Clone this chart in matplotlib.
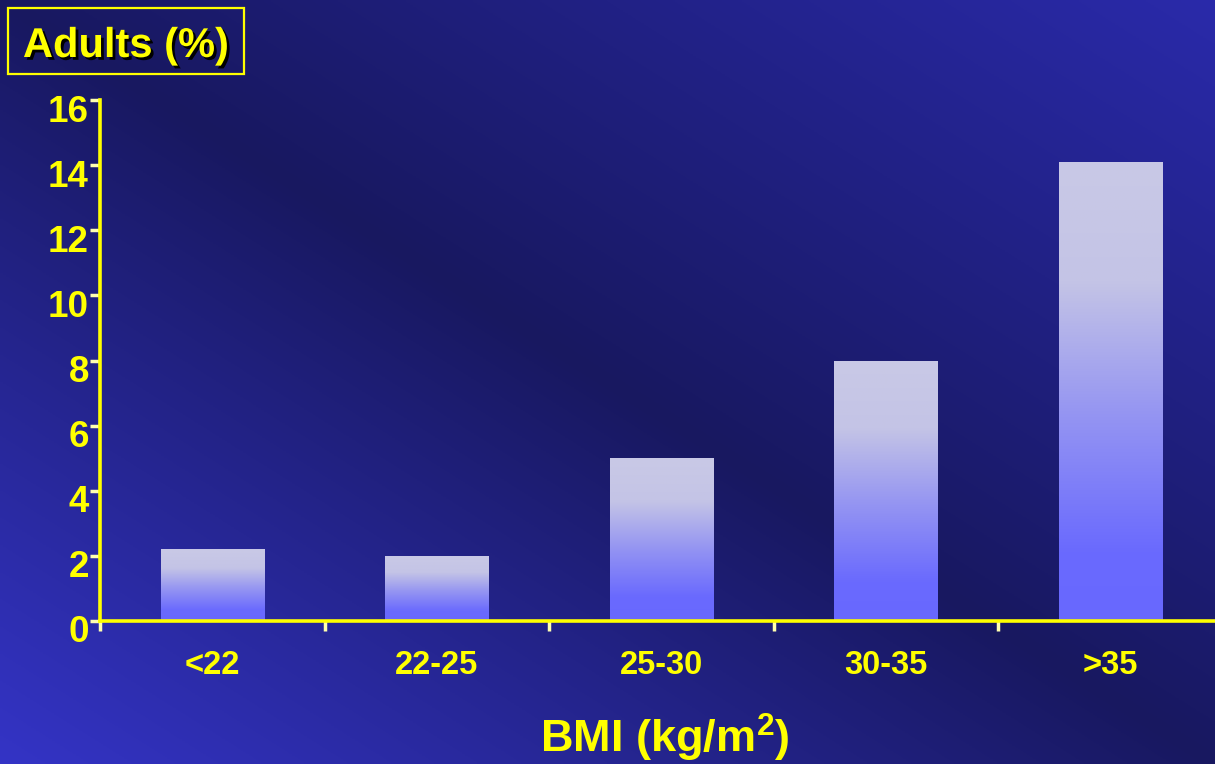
import numpy as np
import matplotlib
matplotlib.use("Agg")
import matplotlib.pyplot as plt
from matplotlib.colors import LinearSegmentedColormap
from matplotlib.patches import Rectangle
from matplotlib.transforms import ScaledTranslation
import matplotlib.patheffects as pe

plt.rcParams['font.family'] = ['Liberation Sans', 'DejaVu Sans']
plt.rcParams['font.weight'] = 'bold'
plt.rcParams['mathtext.fontset'] = 'custom'
plt.rcParams['mathtext.bf'] = 'Liberation Sans:bold'
plt.rcParams['mathtext.rm'] = 'Liberation Sans:bold'

# data
categories = ['<22', '22-25', '25-30', '30-35', '>35']
adults_pct = [2.2, 2.0, 5.0, 8.0, 14.1]
y_ticks = [0, 2, 4, 6, 8, 10, 12, 14, 16]

YELLOW = '#ffff00'
TICKC = '#ffffb0'
W, H = 1215, 764

fig = plt.figure(figsize=(W / 100, H / 100), dpi=100)

# background diagonal gradient
bg_ax = fig.add_axes([0, 0, 1, 1], zorder=-10)
bg_ax.set_axis_off()
xx, yy = np.meshgrid(np.linspace(0, 1, 400), np.linspace(0, 1, 300))
s = xx - yy  # yy downwards (image origin upper)
dark = np.array([0x18, 0x18, 0x60]) / 255
bl = np.array([0x34, 0x34, 0xc6]) / 255
tr = np.array([0x2a, 0x2a, 0xaa]) / 255
neg = np.clip(-s, 0, 1)[..., None]
pos = np.clip(s, 0, 1)[..., None]
img = np.where(s[..., None] < 0, dark + (bl - dark) * neg, dark + (tr - dark) * pos)
bg_ax.imshow(img, aspect='auto', extent=[0, 1, 0, 1], origin='upper')

ax = fig.add_axes([100 / W, 1 - 621 / H, 1 - 100 / W, (621 - 100) / H])
ax.patch.set_alpha(0)

bar_cmap = LinearSegmentedColormap.from_list(
    'barfade',
    [(0.0, '#6868ff'), (0.15, '#6a6afe'), (0.45, '#9595f2'),
     (0.74, '#c4c4e6'), (1.0, '#c9c9e6')])
grad = np.linspace(0, 1, 256).reshape(-1, 1)

x = np.arange(len(categories))
width = 0.46
bars = ax.bar(x, adults_pct, width=width, color='none', edgecolor='none')
for rect, h in zip(bars, adults_pct):
    x0 = rect.get_x()
    im = ax.imshow(grad, cmap=bar_cmap, aspect='auto', origin='lower',
                   extent=[x0, x0 + rect.get_width(), 0, h], zorder=2)
    im.set_clip_path(rect)

ax.set_xlim(-0.5, 4.464)
ax.set_ylim(0, 16)

for side in ['top', 'right']:
    ax.spines[side].set_visible(False)
for side in ['left', 'bottom']:
    ax.spines[side].set_color(YELLOW)
    ax.spines[side].set_linewidth(2.6)
    ax.spines[side].set_zorder(5)

ax.set_yticks(y_ticks)
ax.set_yticklabels([str(v) for v in y_ticks])
ax.tick_params(axis='y', colors=TICKC, length=7, width=2.5, pad=1,
               labelsize=26.5, labelcolor=YELLOW)
shift = ScaledTranslation(0, -8 / 100, fig.dpi_scale_trans)
for lab in ax.get_yticklabels():
    lab.set_transform(lab.get_transform() + shift)

ax.set_xticks(x)
ax.set_xticklabels(categories)
ax.tick_params(axis='x', which='major', length=0, pad=21,
               labelsize=23.5, labelcolor=YELLOW)
ax.set_xticks(np.arange(-0.5, 4.0, 1.0), minor=True)
ax.tick_params(axis='x', which='minor', colors=TICKC, length=7, width=2.5)

# x axis title
fig.text(665 / W, 1 - 753 / H, r'BMI (kg/m$^{\mathbf{2}}$)', fontsize=32.5,
         color=YELLOW, fontweight='bold', ha='center', va='baseline')

# boxed y axis title
fig.add_artist(Rectangle((8 / W, 1 - 74 / H), 236 / W, 66 / H,
                         transform=fig.transFigure, facecolor='none',
                         edgecolor=YELLOW, linewidth=1.6))
title = fig.text(126 / W, 1 - 57 / H, 'Adults (%)', fontsize=30,
                 color=YELLOW, fontweight='bold', ha='center', va='baseline')
title.set_path_effects([pe.SimplePatchShadow(offset=(2, -2), shadow_rgbFace='black', alpha=1.0),
                        pe.Normal()])

fig.savefig('out.png', dpi=100)
